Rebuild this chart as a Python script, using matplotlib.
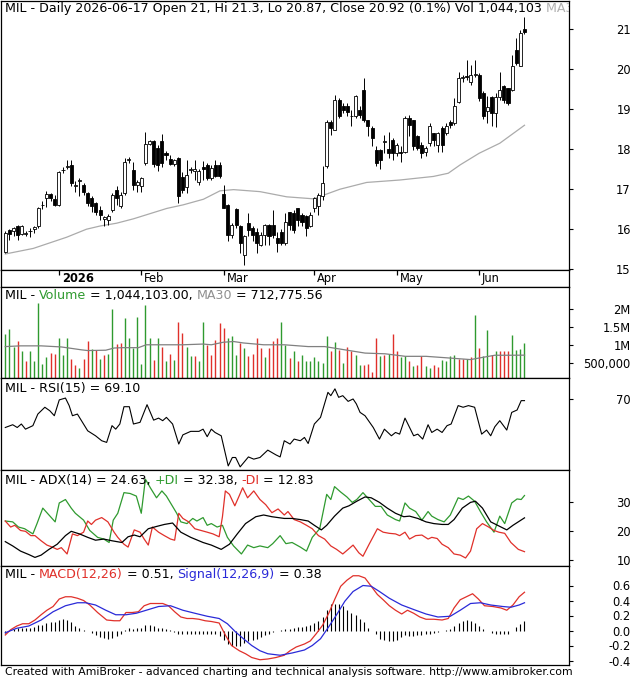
"""AmiBroker style daily chart of MIL with volume, RSI, ADX and MACD panes."""
import matplotlib
matplotlib.use('Agg')
import matplotlib.pyplot as plt
import numpy as np

# ---- price bars (Dec 2025 - 2026-06-17) ----
opens = [15.44, 15.97, 15.95, 16.07, 15.88, 15.87, 15.95, 16.00, 16.07, 16.60,
         16.78, 16.88, 16.76, 16.61, 17.47, 17.55, 17.61, 17.07, 17.20, 17.11,
         16.90, 16.78, 16.65, 16.48, 16.25, 16.23, 16.48, 16.98, 16.57, 16.90,
         17.73, 17.49, 17.10, 17.07, 17.66, 18.14, 18.20, 18.02, 18.20, 17.90,
         17.75, 17.62, 17.77, 17.30, 17.06, 17.48, 17.46, 17.17, 17.55, 17.60,
         17.28, 17.60, 17.60, 16.87, 16.61, 15.86, 16.50, 16.07, 15.36, 16.15,
         16.03, 15.93, 15.61, 15.86, 16.11, 16.11, 15.78, 15.94, 15.65, 16.44,
         16.40, 16.52, 16.36, 16.32, 16.07, 16.52, 16.57, 16.82, 17.57, 18.69,
         18.48, 19.23, 19.08, 19.08, 18.82, 18.82, 18.98, 19.48, 18.73, 18.52,
         17.98, 17.98, 18.19, 18.00, 18.23, 17.90, 17.94, 17.92, 18.77, 18.73,
         18.32, 18.11, 17.94, 18.15, 18.40, 18.11, 18.52, 18.40, 18.69, 18.65,
         19.19, 19.78, 19.84, 19.69, 19.86, 19.86, 19.40, 18.95, 19.30, 18.90,
         19.30, 19.58, 19.52, 19.48, 20.48, 20.08, 21.00]
highs = [15.95, 16.00, 16.05, 16.11, 16.10, 15.95, 16.02, 16.08, 16.55, 16.70,
         16.95, 16.90, 16.86, 17.46, 17.55, 17.73, 17.73, 17.20, 17.28, 17.15,
         16.94, 16.84, 16.69, 16.57, 16.33, 16.37, 16.90, 17.07, 16.94, 17.78,
         17.80, 17.69, 17.23, 17.30, 18.42, 18.22, 18.23, 18.10, 18.38, 17.95,
         17.85, 17.75, 17.80, 17.43, 17.73, 17.55, 17.73, 17.50, 17.70, 17.65,
         17.60, 17.73, 17.68, 17.10, 16.63, 16.15, 16.52, 16.11, 15.86, 16.40,
         16.07, 16.03, 15.94, 16.12, 16.13, 16.48, 15.94, 16.00, 16.40, 16.44,
         16.48, 16.52, 16.40, 16.35, 16.44, 16.81, 16.90, 17.57, 18.73, 18.73,
         19.36, 19.27, 19.15, 19.15, 18.98, 19.36, 19.07, 19.77, 18.73, 18.57,
         18.07, 18.00, 18.36, 18.44, 18.27, 18.15, 18.07, 18.82, 18.86, 18.73,
         18.36, 18.19, 18.07, 18.65, 18.40, 18.44, 18.57, 18.65, 18.73, 19.27,
         19.94, 19.86, 20.23, 20.11, 20.23, 19.90, 19.45, 19.32, 19.32, 19.40,
         19.94, 19.60, 19.52, 20.36, 20.77, 20.98, 21.30]
lows = [15.40, 15.72, 15.82, 15.74, 15.85, 15.83, 15.80, 15.90, 16.03, 16.50,
        16.55, 16.70, 16.57, 16.58, 17.40, 17.50, 17.07, 16.94, 16.82, 16.86,
        16.57, 16.44, 16.36, 16.23, 16.07, 16.11, 16.44, 16.61, 16.53, 16.86,
        17.65, 16.98, 16.94, 16.94, 17.60, 18.10, 17.56, 17.45, 17.55, 17.73,
        17.60, 17.58, 16.65, 16.90, 16.90, 17.40, 17.23, 17.10, 17.23, 17.23,
        17.23, 17.30, 17.28, 16.52, 15.70, 15.78, 16.03, 15.40, 15.11, 15.82,
        15.70, 15.40, 15.57, 15.61, 15.61, 15.78, 15.44, 15.60, 15.60, 15.98,
        15.90, 16.07, 16.07, 15.82, 16.05, 16.44, 16.36, 16.73, 17.53, 18.36,
        18.48, 18.78, 18.90, 18.82, 18.57, 18.77, 18.77, 18.69, 18.32, 18.07,
        17.57, 17.50, 17.90, 17.77, 17.73, 17.82, 17.69, 17.90, 18.32, 17.98,
        17.98, 17.77, 17.82, 18.07, 18.07, 17.94, 17.94, 18.36, 18.52, 18.61,
        19.15, 19.69, 19.73, 19.61, 19.80, 19.20, 18.75, 18.65, 18.57, 18.55,
        19.23, 19.15, 19.10, 19.46, 20.10, 20.07, 20.87]
closes = [15.90, 15.88, 16.02, 15.86, 16.08, 15.91, 15.96, 16.05, 16.52, 16.61,
          16.88, 16.78, 16.61, 17.44, 17.49, 17.58, 17.15, 17.10, 17.22, 16.94,
          16.65, 16.57, 16.44, 16.36, 16.30, 16.33, 16.86, 16.78, 16.86, 17.69,
          17.73, 17.11, 17.17, 17.28, 18.13, 18.20, 17.63, 17.60, 17.66, 17.85,
          17.63, 17.72, 16.82, 16.98, 17.35, 17.50, 17.50, 17.45, 17.50, 17.28,
          17.52, 17.32, 17.32, 16.52, 15.86, 16.11, 16.11, 15.65, 15.82, 15.99,
          15.86, 15.65, 15.86, 16.11, 15.82, 15.86, 15.65, 15.65, 16.19, 16.11,
          15.98, 16.23, 16.19, 16.02, 16.36, 16.77, 16.86, 17.15, 18.69, 18.52,
          19.23, 18.82, 18.98, 18.94, 18.82, 19.32, 18.86, 18.73, 18.57, 18.27,
          17.65, 17.73, 18.21, 17.90, 17.90, 18.11, 17.90, 18.77, 18.61, 18.07,
          18.02, 17.90, 18.04, 18.57, 18.23, 18.40, 18.11, 18.57, 18.61, 19.07,
          19.77, 19.80, 19.80, 19.86, 19.87, 19.27, 18.82, 19.05, 18.90, 19.30,
          19.48, 19.23, 19.15, 20.07, 20.15, 20.90, 20.92]

# 30-bar moving average of close (bar index, value)
ma_x = [0, 6.8, 14.9, 19.7, 23, 27, 31.1, 39.2, 43.2, 48.1, 52.1, 55.4, 61.8,
        68.3, 74.8, 76.4, 81.2, 87.7, 95.7, 103.9, 107.5, 110.4, 115, 120, 126]
ma_y = [15.38, 15.52, 15.80, 16.00, 16.08, 16.15, 16.26, 16.52, 16.61, 16.75,
        16.96, 16.99, 16.94, 16.81, 16.76, 16.82, 17.00, 17.17, 17.23, 17.32,
        17.40, 17.61, 17.90, 18.15, 18.60]

month_idx = [13, 33, 53, 75, 95, 115]
month_lbl = ['2026', 'Feb', 'Mar', 'Apr', 'May', 'Jun']

# ---- volume ----
volume = [1290000, 1440000, 950000, 1110000, 820000, 560000, 820000, 560000, 2160000, 470000,
          650000, 770000, 750000, 1200000, 730000, 1200000, 620000, 450000, 350000, 620000,
          1110000, 880000, 860000, 620000, 730000, 750000, 2000000, 1020000, 1040000, 1730000,
          1180000, 910000, 1770000, 470000, 2100000, 1180000, 590000, 1180000, 930000, 560000,
          750000, 590000, 1640000, 1320000, 930000, 680000, 680000, 560000, 1640000, 1000000,
          730000, 1140000, 1590000, 1470000, 1180000, 1250000, 730000, 1050000, 910000, 680000,
          750000, 1200000, 910000, 650000, 910000, 1110000, 1180000, 1620000, 1000000, 640000,
          840000, 560000, 730000, 550000, 560000, 650000, 550000, 500000, 1230000, 840000,
          1090000, 860000, 500000, 950000, 820000, 710000, 450000, 450000, 470000, 250000,
          1180000, 680000, 730000, 750000, 1290000, 820000, 650000, 680000, 550000, 410000,
          450000, 680000, 410000, 360000, 450000, 380000, 590000, 550000, 680000, 730000,
          620000, 620000, 620000, 650000, 1820000, 910000, 680000, 1410000, 730000, 820000,
          820000, 820000, 820000, 1270000, 860000, 890000, 1044103]
vol_up = [1, 1, 1, 0, 1, 0, 1, 1, 1, 1, 1, 0, 0, 1, 1, 1, 0, 0, 1, 0,
          0, 1, 0, 1, 0, 1, 1, 0, 0, 1, 1, 1, 1, 1, 1, 1, 0, 1, 0, 1,
          0, 1, 0, 0, 1, 1, 0, 1, 1, 0, 0, 0, 0, 0, 1, 1, 1, 0, 1, 0,
          0, 0, 0, 1, 0, 0, 0, 1, 1, 0, 1, 0, 1, 1, 1, 1, 1, 1, 1, 0,
          1, 0, 1, 0, 0, 1, 1, 0, 0, 0, 0, 1, 0, 1, 0, 0, 1, 1, 0, 1,
          0, 0, 1, 1, 0, 0, 1, 1, 1, 1, 0, 0, 1, 0, 1, 0, 1, 1, 0, 1,
          0, 0, 0, 1, 1, 1, 1]
vma_x = [0, 3.7, 8.7, 13.6, 18.5, 20, 24.4, 26.4, 28.3, 32.3, 34.2, 38.2, 43.1, 48,
         50, 52.9, 55.4, 57.8, 62.7, 67.7, 73.5, 77.5, 82.4, 87.3, 92.2, 97.1, 102.1,
         107, 112.9, 115.8, 118.8, 122.7, 126]
vma_y = [950000, 970000, 970000, 940000, 860000, 840000, 850000, 910000, 920000, 920000,
         1000000, 1000000, 1000000, 1020000, 1000000, 1070000, 1090000, 1050000, 1000000,
         1000000, 950000, 950000, 860000, 770000, 750000, 680000, 680000, 640000, 590000,
         650000, 710000, 710000, 712776]

# ---- RSI(15) ----
rsi_x = [0, 1.8, 2.9, 3.9, 4.9, 6.7, 7.9, 9.6, 10.8, 11.9, 13.1, 14.6, 15.5, 16.3, 17.5,
         20.0, 21.9, 23.4, 24.6, 25.9, 26.8, 27.8, 28.8, 30.1, 31.1, 32.7, 34.4, 36.0,
         37.2, 38.2, 39.1, 40.6, 42.1, 43.1, 45.0, 47.0, 48.0, 49.0, 50.0, 50.9, 52.4,
         54.1, 55.1, 55.9, 57.0, 59.0, 60.3, 61.8, 63.7, 65.7, 66.7, 67.7, 69.1, 70.1,
         71.6, 72.6, 73.5, 75.0, 76.5, 78.3, 79.0, 80.0, 80.9, 81.9, 83.2, 84.4, 85.2,
         86.1, 87.3, 89.3, 90.8, 92.0, 93.7, 94.7, 95.7, 97.0, 97.9, 99.1, 100.1, 101.3,
         102.6, 103.5, 104.8, 106.0, 107.2, 108.2, 109.9, 111.1, 112.4, 113.9, 115.6,
         116.8, 117.8, 118.8, 120.0, 121.7, 122.9, 124.2, 125.2, 126]
rsi_y = [54.5, 56, 54.5, 56.4, 53.6, 55.5, 61.8, 65.5, 63.6, 60.9, 69.5, 70.5, 66.4, 60.9,
         61.8, 52.7, 50, 47.3, 46.4, 55.5, 53.6, 56.4, 65.8, 65.8, 56.4, 57.3, 66.9, 58.5,
         59.6, 58.2, 60, 56.4, 45.5, 50.5, 52.4, 52.4, 53.6, 49.5, 53.6, 51.8, 50,
         33.6, 38.2, 38.2, 33.1, 38.5, 37.3, 38.2, 42.2, 39.6, 38.5, 47.3, 45.5, 48.2,
         47.3, 49.1, 45.8, 56.4, 60, 73.6, 71.8, 75.5, 70.9, 71.8, 68.7, 70, 67.3,
         62.7, 60.9, 54.5, 48.2, 53.6, 50, 51.8, 50.9, 59.6, 55.5, 50, 50.9, 48.2,
         56, 51.8, 53.6, 51.8, 55.5, 56.4, 66.4, 65.5, 66.4, 65.5, 50.9,
         53.1, 50, 54.9, 58.2, 53.1, 62.7, 64, 69.1, 69.1]

# ---- ADX(14), +DI, -DI ----
pdi_x = [0, 1.8, 3.2, 4.7, 6.7, 7.7, 9.1, 10.6, 12.1, 13.1, 14.6, 16.0, 17.0, 19.0, 20.5,
         22.4, 23.9, 25.2, 26.2, 27.3, 28.8, 30.3, 31.8, 33.0, 34.0, 35.2, 36.7, 38.0,
         39.1, 40.1, 41.6, 42.6, 44.1, 45.5, 46.5, 48.0, 49.0, 50.0, 51.4, 52.7, 53.9,
         55.4, 57.3, 58.8, 60.3, 61.8, 63.7, 64.9, 66.7, 68.1, 69.6, 71.6, 73.1, 74.5,
         76.3, 78.0, 79.0, 79.9, 81.4, 82.9, 84.2, 85.3, 86.8, 88.3, 89.8, 91.2, 92.7,
         94.7, 95.7, 97.0, 98.1, 99.6, 101.1, 102.6, 103.5, 105.0, 106.5, 108.0, 109.9,
         111.1, 112.4, 113.9, 115.3, 116.8, 118.6, 120.0, 121.2, 122.9, 124.2, 125.2, 126]
pdi_y = [23.5, 23.2, 21.4, 20.8, 19, 22.6, 28, 25.6, 23.2, 29.8, 31, 28, 26.2, 23.8, 20.2,
         17.8, 17.2, 16, 23.8, 26.2, 33.4, 33.1, 32.2, 26.2, 38.1, 35.1, 31.6, 34,
         32.2, 29.8, 26.2, 23.2, 22.6, 24.4, 23.5, 24.7, 22, 22.6, 21.4, 22, 17.8,
         14.8, 12, 15.1, 14.2, 14.8, 14.2, 15.6, 18.4, 15.6, 16, 14.4, 13, 17.8,
         20.8, 32.8, 31, 35.5, 33.6, 31.9, 30, 31, 33.4, 31, 28.6, 28.6, 25.6,
         24, 23.5, 29.8, 28, 26.8, 23.8, 26.8, 25.2, 24, 23.2, 25.6, 31.6,
         31, 32.2, 30.4, 26.8, 23.2, 19.6, 25.2, 22.6, 29.8, 31.2, 31, 32.4]
mdi_x = [0, 1.3, 2.3, 3.7, 4.9, 6.2, 7.2, 8.7, 10.1, 11.4, 12.6, 13.6, 15.0, 16.3, 17.5,
         19.0, 20.0, 20.9, 21.9, 23.4, 24.9, 26.4, 27.3, 28.8, 29.8, 31.3, 32.7, 33.7,
         34.7, 35.7, 37.2, 38.6, 40.1, 41.1, 42.1, 43.1, 44.5, 46.0, 47.5, 49.0, 50.4,
         51.9, 52.7, 53.4, 54.4, 55.7, 56.8, 57.6, 58.8, 60.3, 61.8, 63.2, 64.7, 66.2,
         67.7, 68.6, 70.1, 71.6, 73.1, 74.5, 76.0, 77.5, 79.0, 80.4, 81.9, 83.2, 84.4,
         85.8, 86.8, 88.3, 90.3, 91.7, 93.2, 94.7, 95.7, 97.0, 98.1, 99.6, 101.1, 102.6,
         103.5, 104.8, 106.0, 107.5, 108.9, 110.4, 111.7, 112.9, 114.4, 115.8, 117.3,
         118.6, 119.8, 121.2, 122.7, 124.5, 126]
mdi_y = [23.5, 21.4, 22, 20.2, 19.9, 18.4, 18.4, 16.6, 15.1, 14.4, 13.6, 14.2, 12, 19, 18.4,
         19.6, 23.5, 22.3, 23.8, 24.7, 23.2, 19.6, 17.8, 15.4, 14.4, 20.4, 19.6, 17.2,
         15.1, 21.4, 19.6, 18.4, 17.2, 16.8, 26.2, 24.4, 23.2, 20.8, 20.2, 19.6, 19,
         18, 25, 34, 32.8, 28.8, 32.4, 35.1, 31.6, 34, 31, 29.2, 26.4, 27.7,
         25.6, 26.8, 24, 23.2, 22, 20.8, 18.4, 17.2, 14.8, 13.6, 12, 13.6, 15.1,
         12.4, 11.2, 15.4, 20.8, 19.6, 19.2, 19, 18.4, 19.6, 17.2, 18.4, 18.6, 17.2,
         17.8, 17.4, 15.4, 14.2, 12, 11.6, 10.6, 13, 20.8, 22.6, 21.4,
         20.2, 19.6, 19.2, 16, 13.6, 12.8]
adx_x = [0, 1.8, 3.7, 5.7, 7.2, 8.7, 10.6, 12.6, 14.6, 16.0, 18.0, 20.0, 21.9, 23.9, 25.9,
         28.3, 29.8, 31.3, 32.7, 34.7, 36.7, 38.6, 40.6, 42.6, 45.0, 48.0, 50.0, 52.4,
         54.4, 56.3, 58.3, 60.8, 62.7, 64.7, 67.7, 69.6, 71.6, 73.5, 75.0, 76.7, 78.0,
         79.9, 81.9, 83.4, 85.3, 87.3, 88.8, 90.8, 92.7, 94.7, 96.7, 98.1, 100.1, 102.1,
         104.0, 106.0, 107.5, 108.9, 110.9, 112.9, 114.1, 115.8, 117.8, 120.3, 121.7,
         123.2, 126]
adx_y = [16.3, 14.8, 13, 11.8, 10.8, 11.6, 13.6, 15.4, 18.4, 19.9, 19, 17.8, 16.8, 17.2, 16.6,
         16, 18, 18.6, 18, 20.8, 21.6, 22.3, 22.8, 19.6, 17.8, 16, 15.1, 13.6,
         15.4, 19, 22.6, 25, 25.6, 25, 24.4, 24.4, 24, 23.5, 22, 20.4, 22,
         25.2, 28, 28.8, 30.4, 31.9, 31.6, 30, 28, 26.2, 25, 25.2, 24.4, 23.2,
         22.6, 22.3, 22.3, 24, 28, 30, 30.4, 28, 23.2, 21.4, 20.4,
         22, 24.6]

# ---- MACD(12,26), Signal(12,26,9) ----
macd_x = [0, 1.3, 2.8, 4.2, 5.7, 7.2, 8.7, 10.1, 11.6, 13.1, 14.6, 16.0, 17.5, 19.0, 20.5,
          22.4, 24.6, 26.4, 27.8, 29.3, 30.8, 32.3, 33.7, 35.2, 36.7, 38.2, 39.6, 41.1,
          42.6, 44.1, 45.5, 47.0, 48.5, 50.0, 51.9, 53.4, 54.9, 56.8, 58.3, 59.8, 61.8,
          63.7, 65.7, 67.7, 69.1, 70.6, 72.6, 74.0, 75.5, 77.0, 78.5, 79.9, 81.4, 82.9,
          84.4, 85.8, 87.3, 88.8, 90.3, 91.7, 93.2, 94.7, 96.2, 97.6, 99.1, 100.6, 102.1,
          104.0, 106.0, 107.5, 108.9, 110.4, 111.9, 113.4, 114.8, 116.3, 118.3, 120.3,
          121.7, 123.2, 124.7, 126]
macd_y = [-0.06, 0.01, 0.06, 0.09, 0.09, 0.14, 0.21, 0.27, 0.32, 0.42, 0.45, 0.45, 0.43, 0.40,
          0.34, 0.24, 0.14, 0.13, 0.13, 0.24, 0.24, 0.25, 0.33, 0.36, 0.36, 0.36, 0.33, 0.25,
          0.18, 0.16, 0.16, 0.15, 0.13, 0.12, 0.10, -0.06, -0.20, -0.27, -0.31, -0.36, -0.39,
          -0.38, -0.36, -0.33, -0.27, -0.22, -0.18, -0.14, -0.04, 0.07, 0.23, 0.41, 0.59, 0.67,
          0.73, 0.73, 0.70, 0.59, 0.48, 0.41, 0.33, 0.27, 0.22, 0.27, 0.23, 0.18, 0.15,
          0.15, 0.14, 0.16, 0.30, 0.41, 0.45, 0.49, 0.42, 0.33, 0.32, 0.30,
          0.27, 0.34, 0.45, 0.51]
sig_x = [0, 2.8, 5.7, 8.7, 11.6, 14.6, 17.5, 19.5, 21.9, 24.4, 26.8, 29.3, 31.8, 34.2, 37.2,
         40.1, 43.1, 46.0, 49.0, 51.9, 53.9, 55.9, 57.8, 59.8, 61.8, 63.7, 66.7, 69.6,
         72.6, 74.5, 76.5, 78.5, 80.4, 82.4, 84.4, 86.8, 88.8, 90.8, 93.2, 96.2, 99.1,
         102.1, 105.0, 108.0, 110.4, 112.9, 115.3, 117.8, 120.7, 122.7, 124.7, 126]
sig_y = [-0.03, 0.03, 0.06, 0.14, 0.25, 0.33, 0.37, 0.37, 0.34, 0.27, 0.21, 0.21, 0.23, 0.27,
         0.32, 0.33, 0.27, 0.23, 0.19, 0.16, 0.09, -0.02, -0.11, -0.20, -0.27, -0.31, -0.33,
         -0.30, -0.26, -0.20, -0.11, 0.05, 0.21, 0.39, 0.52, 0.60, 0.59, 0.52, 0.43, 0.34,
         0.28, 0.22, 0.18, 0.19, 0.27, 0.36, 0.37, 0.34, 0.32, 0.31, 0.34, 0.37]
hist = [-0.03, 0.0, 0.02, 0.03, 0.03, 0.03, 0.04, 0.05, 0.07, 0.08,
        0.10, 0.11, 0.12, 0.14, 0.15, 0.14, 0.11, 0.06, 0.03, 0.01,
        -0.01, -0.03, -0.06, -0.08, -0.10, -0.11, -0.10, -0.07, -0.04, 0.01,
        0.03, 0.02, 0.03, 0.04, 0.07, 0.08, 0.06, 0.04, 0.03, 0.02,
        0.01, -0.02, -0.05, -0.05, -0.05, -0.05, -0.05, -0.05, -0.05, -0.05,
        -0.05, -0.05, -0.07, -0.12, -0.18, -0.20, -0.20, -0.20, -0.17, -0.14,
        -0.13, -0.11, -0.08, -0.06, -0.04, -0.02, -0.01, 0.01, 0.02, 0.02,
        0.03, 0.05, 0.05, 0.06, 0.08, 0.10, 0.13, 0.18, 0.28, 0.36,
        0.35, 0.36, 0.33, 0.27, 0.24, 0.21, 0.16, 0.11, 0.04, 0.0,
        -0.05, -0.11, -0.13, -0.14, -0.14, -0.12, -0.09, -0.06, -0.07, -0.07,
        -0.06, -0.06, -0.05, -0.04, -0.03, -0.02, -0.01, 0.01, 0.02, 0.06,
        0.10, 0.13, 0.14, 0.13, 0.10, 0.06, 0.02, -0.01, -0.03, -0.04,
        -0.04, -0.04, -0.05, -0.01, 0.05, 0.09, 0.13]

# ---- layout (pixels of a 635x680 canvas) ----
W, H = 635, 680
FS = 8.3        # axis labels
FS_HEAD = 9.1   # pane headers
FS_FOOT = 7.8
XLIM = (-1.04, 136.8)
GREEN, RED, BLUE = '#2f9a2f', '#e0302a', '#2a2ad8'

plt.rcParams['font.family'] = ['DejaVu Sans']
fig = plt.figure(figsize=(W / 100, H / 100), dpi=100)


def panel(top, bottom):
    return fig.add_axes([1 / W, 1 - bottom / H, 568 / W, (bottom - top) / H])


def style(ax, ylim, ticks, labels):
    ax.set_xlim(*XLIM)
    ax.set_ylim(*ylim)
    ax.set_xticks([])
    ax.yaxis.tick_right()
    ax.set_yticks(ticks)
    ax.set_yticklabels(labels)
    ax.tick_params(axis='y', direction='out', length=3, width=0.8, pad=41.5, labelsize=FS)
    for t in ax.get_yticklabels():
        t.set_horizontalalignment('right')
    for s in ax.spines.values():
        s.set_linewidth(0.9)


def header(ax, parts, y_px):
    """Coloured run of text at the top left of a pane, clipped at the pane frame."""
    prev = None
    for txt, col in parts:
        if prev is None:
            prev = fig.text(5 / W, 1 - y_px / H, txt, color=col, fontsize=FS_HEAD,
                            va='bottom', ha='left')
        else:
            prev = ax.annotate(txt, xy=(1, 0), xycoords=prev, color=col, fontsize=FS_HEAD,
                               va='bottom', ha='left', annotation_clip=False)
        prev.set_clip_box(ax.bbox)
        prev.set_clip_on(True)


x = np.arange(len(closes))
o, hi, lo, c = map(np.array, (opens, highs, lows, closes))

# price pane
ax = panel(0.5, 270)
ax.vlines(x, lo, hi, color='black', lw=0.7, zorder=1)
body = np.maximum(np.abs(c - o), 0.015)
ax.bar(x, body, bottom=np.minimum(o, c), width=0.74,
       color=np.where(c >= o, 'white', 'black'), edgecolor='black', linewidth=0.6, zorder=2)
ax.plot(ma_x, ma_y, color='#ababab', lw=0.9, zorder=0)
style(ax, (14.98, 21.72), range(15, 22), [str(v) for v in range(15, 22)])
header(ax, [('MIL - Daily 2026-06-17 Open 21, Hi 21.3, Lo 20.87, Close 20.92 (0.1%) Vol 1,044,103 ', 'black'),
            ('MA30 = 18.61', '#b0b0b0')], 15)

# date strip
axd = panel(270, 287)
axd.set_xlim(*XLIM)
axd.set_ylim(0, 1)
axd.set_xticks([])
axd.set_yticks([])
for s in axd.spines.values():
    s.set_linewidth(0.9)
for idx, lab in zip(month_idx, month_lbl):
    axd.vlines(idx, 0.7, 1, color='black', lw=0.9)
    axd.text(idx + 0.7, 0.5, lab, ha='left', va='center', fontsize=FS,
             fontweight='bold' if lab == '2026' else 'normal')

# volume pane
axv = panel(287, 378)
vcol = [GREEN if u else RED for u in vol_up]
axv.vlines(x, 0, volume, colors=vcol, lw=1.0)
axv.plot(vma_x, vma_y, color='#808080', lw=0.9)
style(axv, (0.08e6, 2.6e6), [500000, 1000000, 1500000, 2000000], ['500,000', '1M', '1.5M', '2M'])
header(axv, [('MIL - ', 'black'), ('Volume', GREEN), (' = 1,044,103.00, ', 'black'),
             ('MA30', '#909090'), (' = 712,775.56', 'black')], 302)

# RSI pane
axr = panel(378, 470)
axr.plot(rsi_x, rsi_y, color='black', lw=0.8)
style(axr, (31.4, 81.4), [70], ['70'])
header(axr, [('MIL - RSI(15) = 69.10', 'black')], 395)

# ADX pane
axa = panel(470, 566)
axa.plot(pdi_x, pdi_y, color=GREEN, lw=0.9)
axa.plot(mdi_x, mdi_y, color=RED, lw=0.9)
axa.plot(adx_x, adx_y, color='black', lw=0.9)
style(axa, (7.8, 41.3), [10, 20, 30], ['10', '20', '30'])
header(axa, [('MIL - ADX(14) = 24.63, ', 'black'), ('+DI', GREEN), (' = 32.38, ', 'black'),
             ('-DI', RED), (' = 12.83', 'black')], 487)

# MACD pane
axm = panel(566, 665)
axm.vlines(x, 0, hist, color='black', lw=0.8)
axm.plot(macd_x, macd_y, color=RED, lw=0.9)
axm.plot(sig_x, sig_y, color=BLUE, lw=0.9)
style(axm, (-0.46, 0.86), [-0.4, -0.2, 0.0, 0.2, 0.4, 0.6],
      ['-0.4', '-0.2', '0.0', '0.2', '0.4', '0.6'])
header(axm, [('MIL - ', 'black'), ('MACD(12,26)', RED), (' = 0.51, ', 'black'),
             ('Signal(12,26,9)', BLUE), (' = 0.38', 'black')], 581)

fig.text(5 / W, 1 - 672 / H,
         'Created with AmiBroker - advanced charting and technical analysis software. http://www.amibroker.com',
         fontsize=FS_FOOT, va='center', ha='left')

fig.savefig('out.png', dpi=100)
